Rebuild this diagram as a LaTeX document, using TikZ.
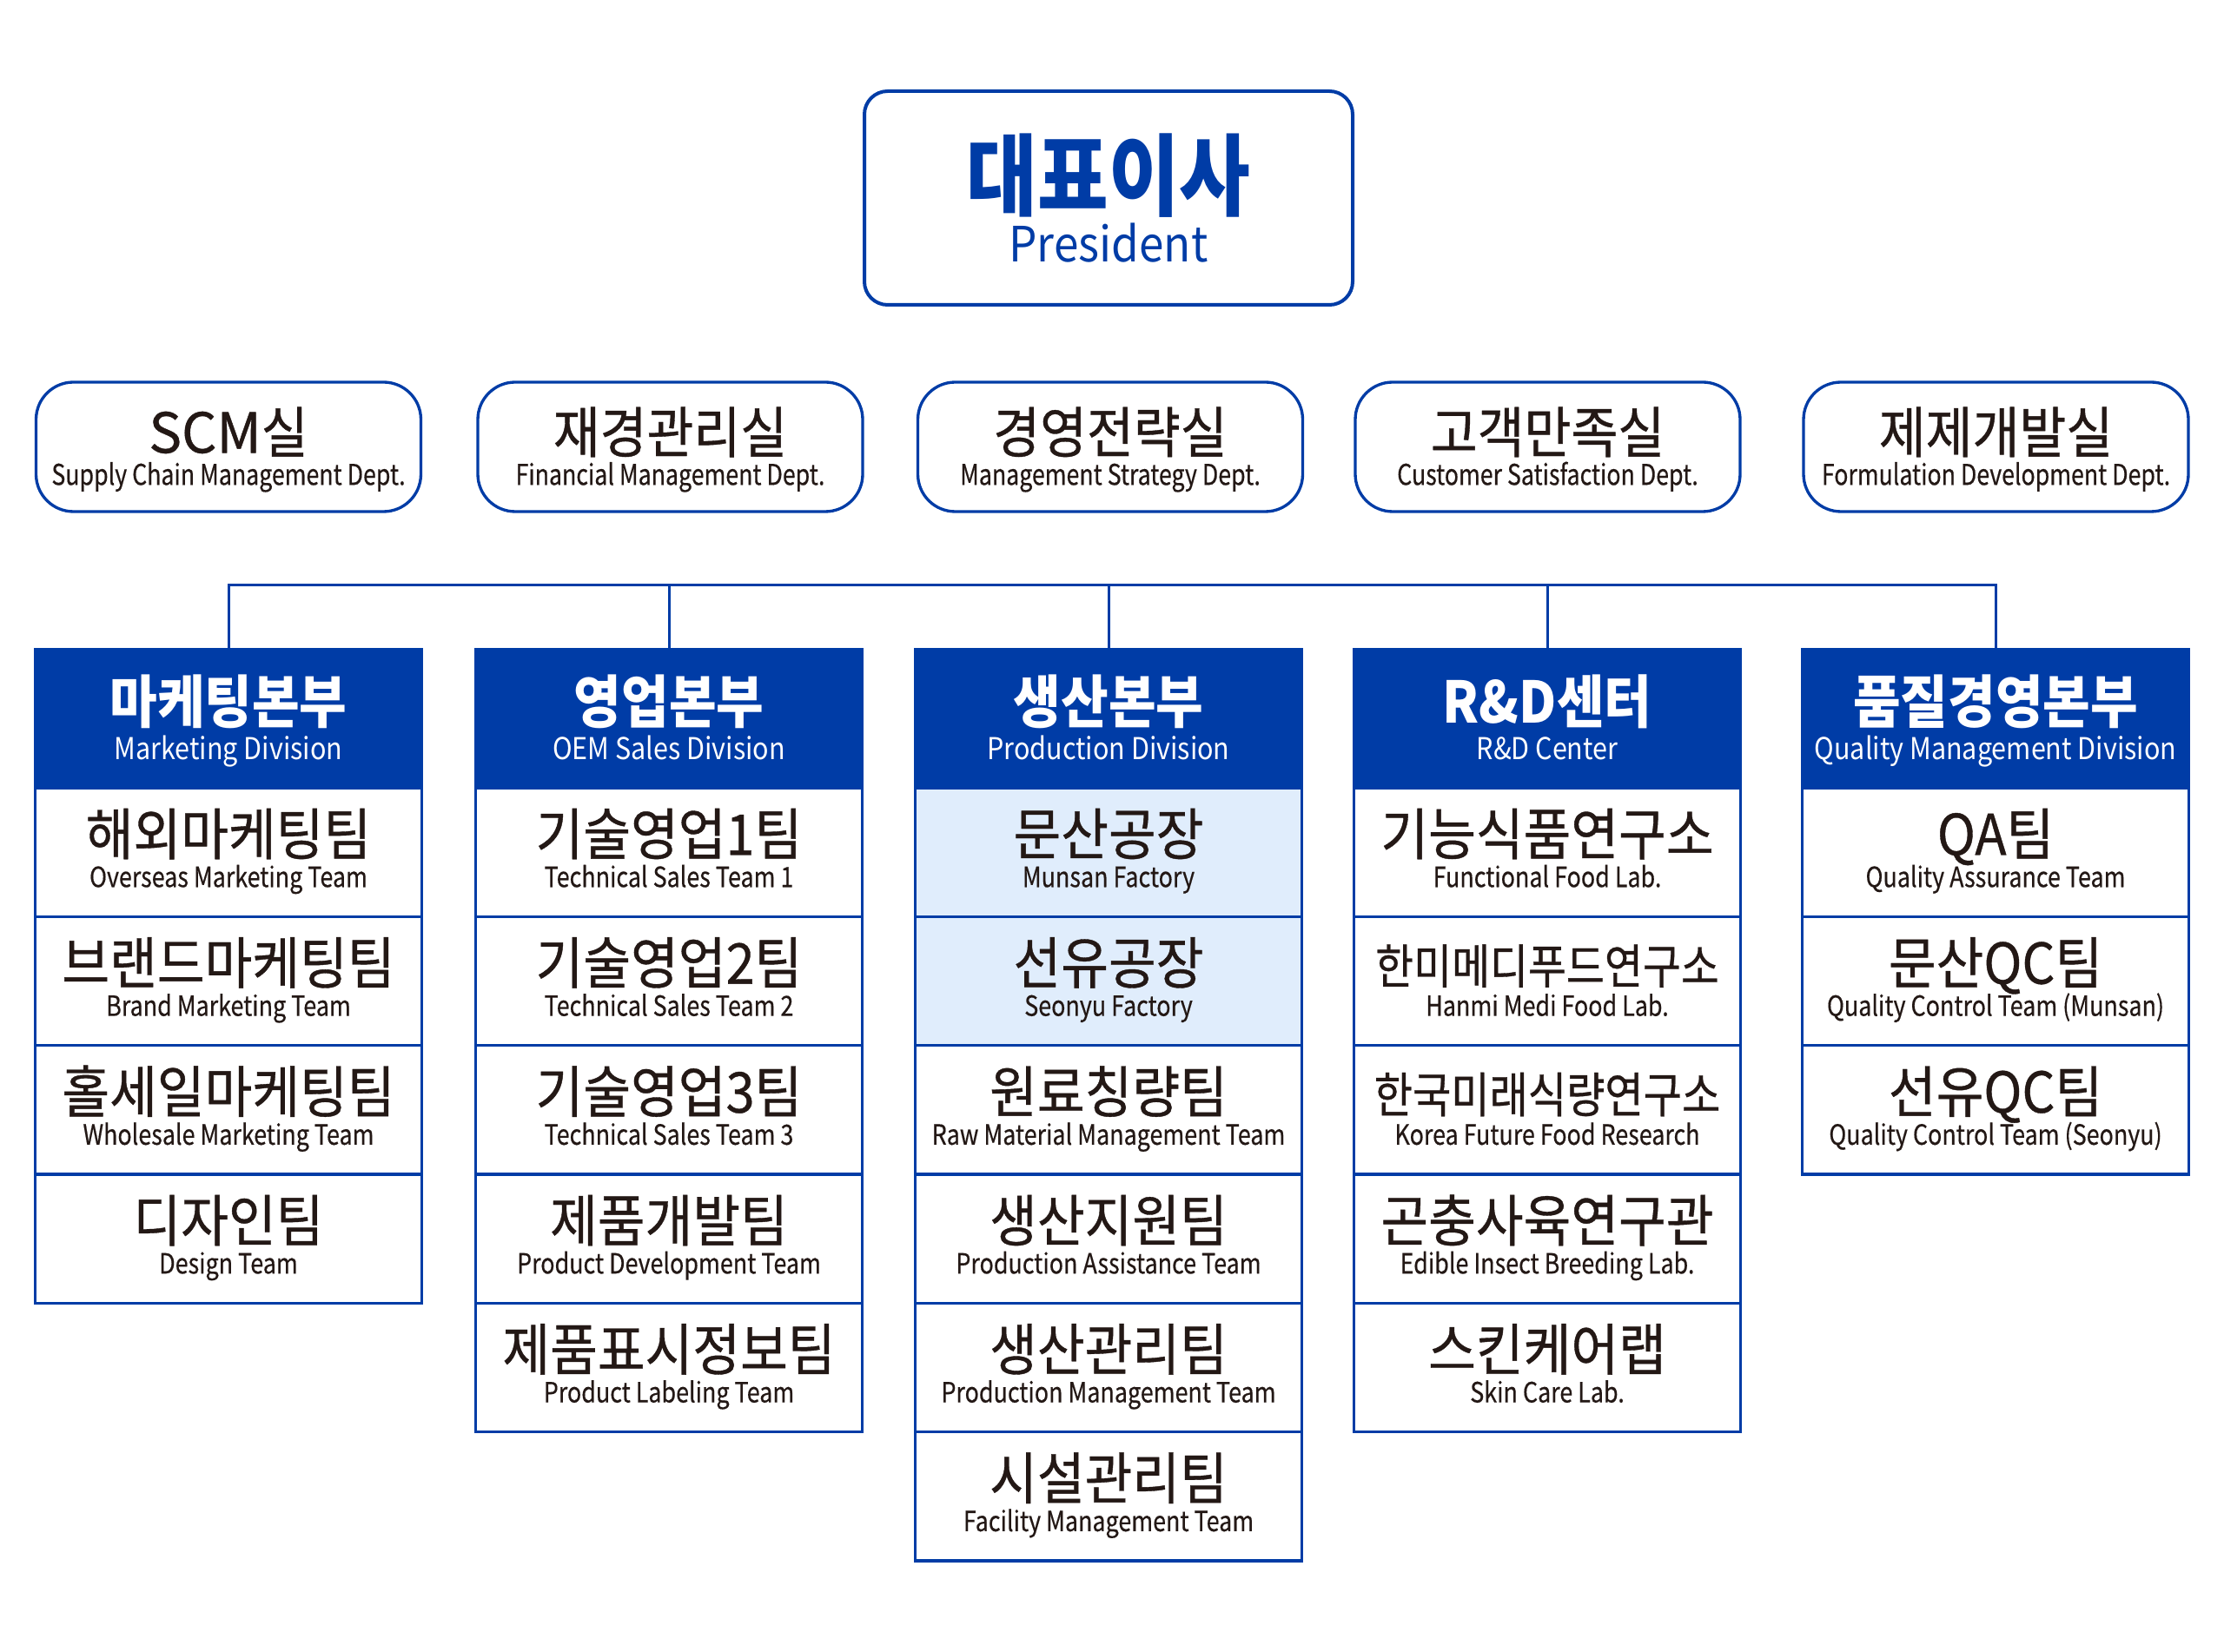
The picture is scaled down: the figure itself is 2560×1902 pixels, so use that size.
\documentclass[tikz,border=0pt]{standalone}
\usepackage{fontspec}
\setmainfont{Noto Sans CJK KR}
\newfontfamily\kfont[FakeStretch=0.92, FakeBold=0.6]{Noto Sans CJK KR}
\newfontfamily\kbfont[FakeStretch=0.9]{Noto Sans CJK KR}
\newfontfamily\kpfont[FakeStretch=0.865]{Noto Sans CJK KR}
\newfontfamily\edept[FakeStretch=0.81, FakeBold=0.4]{Noto Sans CJK KR}
\newfontfamily\erow[FakeStretch=0.84, FakeBold=0.4]{Noto Sans CJK KR}
\newfontfamily\ehead[FakeStretch=0.88]{Noto Sans CJK KR}
\newfontfamily\epres[FakeStretch=0.915]{Noto Sans CJK KR}
\usetikzlibrary{calc}
\definecolor{cblue}{RGB}{0,60,166}
\definecolor{clight}{RGB}{224,237,252}
\definecolor{ctext}{RGB}{35,24,21}
\tikzset{
  teambox/.style={draw=cblue, line width=1.05pt, rectangle, minimum width=133.5pt, minimum height=44.5pt, inner sep=0pt},
  headbox/.style={draw=cblue, fill=cblue, line width=1.05pt, rectangle, minimum width=133.5pt, minimum height=47.7pt, inner sep=0pt},
  deptbox/.style={draw=cblue, line width=1pt, rectangle, rounded corners=12.9pt, minimum width=132.9pt, minimum height=44.7pt, inner sep=0pt},
  presbox/.style={draw=cblue, line width=1.2pt, rectangle, rounded corners=8pt, minimum width=168.6pt, minimum height=73.8pt, inner sep=0pt},
  kortext/.style={inner sep=0pt, anchor=base, text=ctext, font=\kfont\fontsize{19.4}{20}\selectfont},
  engtext/.style={inner sep=0pt, anchor=base, text=ctext, font=\erow\fontsize{9.6}{10}\selectfont},
  headkor/.style={inner sep=0pt, anchor=base, text=white, font=\kbfont\bfseries\fontsize{19.8}{20}\selectfont},
  headeng/.style={inner sep=0pt, anchor=base, text=white, font=\ehead\fontsize{10.4}{11}\selectfont},
  deptkor/.style={inner sep=0pt, anchor=base, text=ctext, font=\kfont\fontsize{19.1}{20}\selectfont},
  depteng/.style={inner sep=0pt, anchor=base, text=ctext, font=\edept\fontsize{9.9}{10}\selectfont},
  conn/.style={draw=cblue, line width=0.9pt},
}
% #1 name, #2 x, #3 row index, #4 fill, #5 korean, #6 english
\newcommand\teamrow[6]{%
  \node[teambox, fill=#4] (#1) at (#2, {907+(#3-1)*148.33+74.17}) {};
  \node[kortext] (#1k) at ($(#1.north)+(0,79)$) {#5};
  \node[engtext] (#1e) at ($(#1.north)+(0,116)$) {#6};
}
\newcommand\headrow[4]{%
  \node[headbox] (#1) at (#2, 827.5) {};
  \node[headkor] (#1k) at ($(#1.north)+(0,86)$) {#3};
  \node[headeng] (#1e) at ($(#1.north)+(0,128)$) {#4};
}
\newcommand\deptrow[4]{%
  \node[deptbox] (#1) at (#2, 514.5) {};
  \node[deptkor] (#1k) at ($(#1.north)+(0,83)$) {#3};
  \node[depteng] (#1e) at ($(#1.north)+(0,120)$) {#4};
}
\begin{document}
\begin{tikzpicture}[x=0.3pt, y=-0.3pt]
\fill[white] (0,0) rectangle (2560,1902);
\useasboundingbox (0,0) rectangle (2560,1902);

% President
\node[presbox] (pres) at (1276, 228) {};
\node[inner sep=0pt, anchor=base, text=cblue, font=\kpfont\bfseries\fontsize{30.8}{32}\selectfont] (presk) at ($(pres.north)+(0,138)$) {대표이사};
\node[inner sep=0pt, anchor=base, text=cblue, font=\epres\fontsize{16.8}{17}\selectfont] (prese) at ($(pres.north)+(0,199)$) {President};

% Staff departments
\deptrow{d1}{263}{\scalebox{1.08}[1]{SCM}실}{Supply Chain Management Dept.}
\deptrow{d2}{771.5}{재경관리실}{Financial Management Dept.}
\deptrow{d3}{1278}{경영전략실}{Management Strategy Dept.}
\deptrow{d4}{1781.5}{고객만족실}{Customer Satisfaction Dept.}
\deptrow{d5}{2297.5}{제제개발실}{Formulation Development Dept.}

% Division headers
\headrow{h1}{263}{마케팅본부}{Marketing Division}
\headrow{h2}{770}{영업본부}{OEM Sales Division}
\headrow{h3}{1276}{생산본부}{Production Division}
\headrow{h4}{1781}{R\&D센터}{R\&D Center}
\headrow{h5}{2297}{품질경영본부}{Quality Management Division}

% Bus
\coordinate (bus) at (1276, 674);
\draw[conn] (h1.north) |- (h5.north |- bus) -- (h5.north);
\draw[conn] (h2.north) -- (h2.north |- bus);
\draw[conn] (h3.north) -- (h3.north |- bus);
\draw[conn] (h4.north) -- (h4.north |- bus);

% Column 1
\teamrow{a1}{263}{1}{white}{해외마케팅팀}{Overseas Marketing Team}
\teamrow{a2}{263}{2}{white}{브랜드마케팅팀}{Brand Marketing Team}
\teamrow{a3}{263}{3}{white}{홀세일마케팅팀}{Wholesale Marketing Team}
\teamrow{a4}{263}{4}{white}{디자인팀}{Design Team}

% Column 2
\teamrow{b1}{770}{1}{white}{기술영업1팀}{Technical Sales Team 1}
\teamrow{b2}{770}{2}{white}{기술영업2팀}{Technical Sales Team 2}
\teamrow{b3}{770}{3}{white}{기술영업3팀}{Technical Sales Team 3}
\teamrow{b4}{770}{4}{white}{제품개발팀}{Product Development Team}
\teamrow{b5}{770}{5}{white}{제품표시정보팀}{Product Labeling Team}

% Column 3
\teamrow{c1}{1276}{1}{clight}{문산공장}{Munsan Factory}
\teamrow{c2}{1276}{2}{clight}{선유공장}{Seonyu Factory}
\teamrow{c3}{1276}{3}{white}{원료칭량팀}{Raw Material Management Team}
\teamrow{c4}{1276}{4}{white}{생산지원팀}{Production Assistance Team}
\teamrow{c5}{1276}{5}{white}{생산관리팀}{Production Management Team}
\teamrow{c6}{1276}{6}{white}{시설관리팀}{Facility Management Team}

% Column 4
\teamrow{e1}{1781}{1}{white}{기능식품연구소}{Functional Food Lab.}
\teamrow{e2}{1781}{2}{white}{\fontsize{16.4}{17}\selectfont\scalebox{0.95}[1]{한미메디푸드연구소}}{Hanmi Medi Food Lab.}
\teamrow{e3}{1781}{3}{white}{\fontsize{16.7}{17}\selectfont\scalebox{0.94}[1]{한국미래식량연구소}}{Korea Future Food Research}
\teamrow{e4}{1781}{4}{white}{곤충사육연구관}{Edible Insect Breeding Lab.}
\teamrow{e5}{1781}{5}{white}{스킨케어랩}{Skin Care Lab.}

% Column 5
\teamrow{f1}{2297}{1}{white}{QA팀}{Quality Assurance Team}
\teamrow{f2}{2297}{2}{white}{문산QC팀}{Quality Control Team (Munsan)}
\teamrow{f3}{2297}{3}{white}{선유QC팀}{Quality Control Team (Seonyu)}
\end{tikzpicture}
\end{document}
